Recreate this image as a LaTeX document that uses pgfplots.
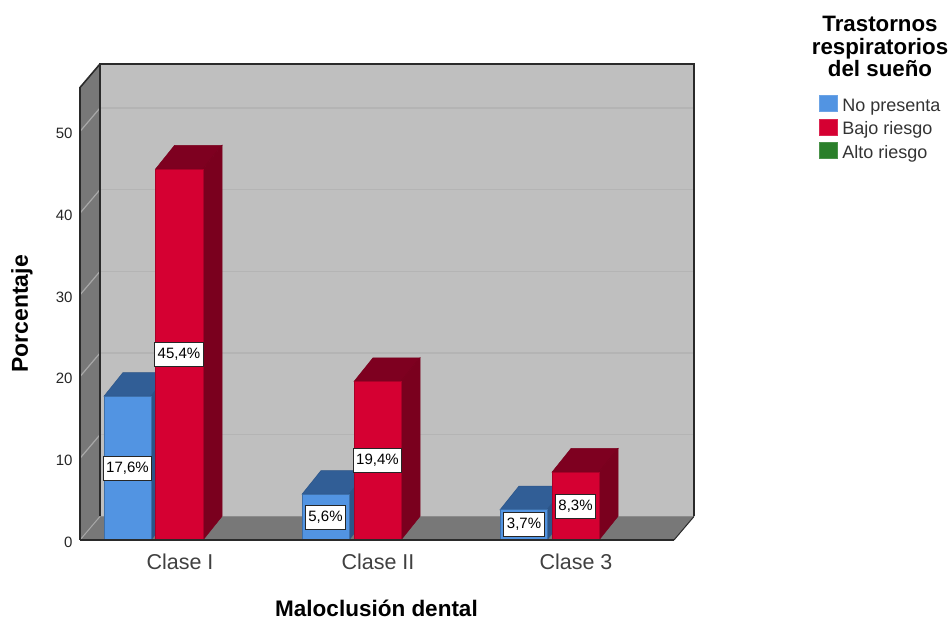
\documentclass[border=0pt]{standalone}
\usepackage{fontspec}
\setmainfont{Liberation Sans}
\usepackage{pgfplots}
\usepackage{pgfplotstable}
\pgfplotsset{compat=1.18}

\definecolor{wallback}{HTML}{BFBFBF}
\definecolor{wallside}{HTML}{787878}
\definecolor{gridback}{HTML}{B4B4B4}
\definecolor{gridside}{HTML}{A8A8A8}
\definecolor{framecol}{HTML}{2A2A2A}
\definecolor{bluefront}{HTML}{5294E2}
\definecolor{bluetop}{HTML}{315E96}
\definecolor{blueside}{HTML}{2C5588}
\definecolor{redfront}{HTML}{D50032}
\definecolor{redtop}{HTML}{7E0020}
\definecolor{redside}{HTML}{7A001E}
\definecolor{greenfront}{HTML}{2A7F2A}

% Percentage labels, centred half way up each bar
\pgfplotstableread[col sep=space]{
x y lab
127.5 8.8 {17,6\%}
179 22.7 {45,4\%}
325.5 2.8 {5,6\%}
377.5 9.7 {19,4\%}
524 1.85 {3,7\%}
575.5 4.15 {8,3\%}
}\barlabels

\begin{document}
\begin{tikzpicture}[x=1pt,y=1pt]
\path[use as bounding box] (0,0) rectangle (951,618);
\begin{axis}[
  at={(80pt,78pt)}, anchor=south west,
  scale only axis, width=614pt, height=476pt,
  xmin=80, xmax=694, ymin=0, ymax=58.26,
  clip=false,
  axis line style={draw=none},
  tick style={draw=none},
  xtick={180,378,576},
  xticklabels={Clase I,Clase II,Clase 3},
  ytick={0,10,20,30,40,50},
  xticklabel style={font=\fontsize{21.5}{21.5}\selectfont, color=black!75, yshift=-10pt},
  yticklabel style={font=\fontsize{15}{15}\selectfont, color=black!85, xshift=-4pt, yshift=-2pt},
  /pgf/number format/assume math mode=true,
  xlabel={\textbf{Maloclusión dental}},
  xlabel style={font=\fontsize{22.5}{22.5}\selectfont, at={(axis cs:376.5,0)}, anchor=center, inner sep=0pt, yshift=-68pt},
  ylabel={\textbf{Porcentaje}},
  ylabel style={font=\fontsize{23}{23}\selectfont, at={(axis cs:22,27.66)}, anchor=center, inner sep=0pt},
  legend style={at={(axis cs:819,58.26)}, anchor=north west, draw=none, fill=none,
    yshift=-31pt, inner sep=0pt, outer sep=0pt,
    font=\fontsize{18}{18}\selectfont, text=black!80,
    row sep=3.5pt,
    nodes={inner xsep=5pt, inner ysep=0pt, text height=13pt, text depth=4pt}},
  legend cell align=left,
  legend image code/.code={\draw[#1] (0pt,-4.5pt) rectangle (18pt,11.5pt);},
]
% Side wall, floor and back wall
\addplot[forget plot, fill=wallside, draw=none] coordinates {(80,0)(100,2.88)(100,58.26)(80,55.38)} -- cycle;
\addplot[forget plot, fill=wallside, draw=none] coordinates {(80,0)(674,0)(694,2.88)(100,2.88)} -- cycle;
\addplot[forget plot, fill=wallback, draw=none] coordinates {(100,2.88)(694,2.88)(694,58.26)(100,58.26)} -- cycle;

% Grid lines on the back and side walls
\pgfplotsinvokeforeach{10,20,30,40,50}{
  \addplot[forget plot, gridback, line width=1.2pt] coordinates {(100,#1+2.88)(694,#1+2.88)};
  \addplot[forget plot, gridside, line width=1.2pt] coordinates {(80,#1)(100,#1+2.88)};
}
\addplot[forget plot, gridside, line width=1pt] coordinates {(80,0)(100,2.88)};
\addplot[forget plot, black!45, line width=1pt] coordinates {(100,2.88)(694,2.88)};

% Frame of the box
\addplot[forget plot, framecol, line width=1.8pt] coordinates {(694,2.88)(694,58.26)(100,58.26)(100,2.88)};
\addplot[forget plot, framecol, line width=1.6pt] coordinates {(100,58.26)(80,55.38)(80,0)};
\addplot[forget plot, framecol, line width=1pt] coordinates {(674,0)(694,2.88)};

% Clase I
\addplot[forget plot, fill=bluetop, draw=blueside, line width=.5pt] coordinates {(104,17.6)(151,17.6)(170,20.5)(123,20.5)} -- cycle;
\addplot[forget plot, fill=blueside, draw=blueside, line width=.5pt] coordinates {(151,0)(170,2.9)(170,20.5)(151,17.6)} -- cycle;
\addplot[forget plot, fill=bluefront, draw=bluefront!75!black, line width=.7pt] coordinates {(104,0)(151,0)(151,17.6)(104,17.6)} -- cycle;
\addplot[forget plot, fill=redtop, draw=redside, line width=.5pt] coordinates {(155.5,45.4)(203,45.4)(222,48.3)(174.5,48.3)} -- cycle;
\addplot[forget plot, fill=redside, draw=redside, line width=.5pt] coordinates {(203,0)(222,2.9)(222,48.3)(203,45.4)} -- cycle;
\addplot[forget plot, fill=redfront, draw=redfront!80!black, line width=.7pt] coordinates {(155.5,0)(203,0)(203,45.4)(155.5,45.4)} -- cycle;

% Clase II
\addplot[forget plot, fill=bluetop, draw=blueside, line width=.5pt] coordinates {(302,5.6)(349,5.6)(368,8.5)(321,8.5)} -- cycle;
\addplot[forget plot, fill=blueside, draw=blueside, line width=.5pt] coordinates {(349,0)(368,2.9)(368,8.5)(349,5.6)} -- cycle;
\addplot[forget plot, fill=bluefront, draw=bluefront!75!black, line width=.7pt] coordinates {(302,0)(349,0)(349,5.6)(302,5.6)} -- cycle;
\addplot[forget plot, fill=redtop, draw=redside, line width=.5pt] coordinates {(354,19.4)(401,19.4)(420,22.3)(373,22.3)} -- cycle;
\addplot[forget plot, fill=redside, draw=redside, line width=.5pt] coordinates {(401,0)(420,2.9)(420,22.3)(401,19.4)} -- cycle;
\addplot[forget plot, fill=redfront, draw=redfront!80!black, line width=.7pt] coordinates {(354,0)(401,0)(401,19.4)(354,19.4)} -- cycle;

% Clase 3
\addplot[forget plot, fill=bluetop, draw=blueside, line width=.5pt] coordinates {(500,3.7)(547,3.7)(566,6.6)(519,6.6)} -- cycle;
\addplot[forget plot, fill=blueside, draw=blueside, line width=.5pt] coordinates {(547,0)(566,2.9)(566,6.6)(547,3.7)} -- cycle;
\addplot[forget plot, fill=bluefront, draw=bluefront!75!black, line width=.7pt] coordinates {(500,0)(547,0)(547,3.7)(500,3.7)} -- cycle;
\addplot[forget plot, fill=redtop, draw=redside, line width=.5pt] coordinates {(552,8.3)(599,8.3)(618,11.2)(571,11.2)} -- cycle;
\addplot[forget plot, fill=redside, draw=redside, line width=.5pt] coordinates {(599,0)(618,2.9)(618,11.2)(599,8.3)} -- cycle;
\addplot[forget plot, fill=redfront, draw=redfront!80!black, line width=.7pt] coordinates {(552,0)(599,0)(599,8.3)(552,8.3)} -- cycle;

% Base line in front of the bars
\addplot[forget plot, framecol, line width=1.8pt] coordinates {(80,0)(674,0)};

% Value labels
\addplot[forget plot, draw=none, mark=none,
  point meta=explicit symbolic,
  nodes near coords,
  every node near coord/.style={anchor=center, fill=white, draw=black!85, line width=1.1pt,
    font=\fontsize{15}{15}\selectfont, inner xsep=3pt, inner ysep=5pt, text height=11pt, text depth=3pt}]
  table[x=x, y=y, meta=lab] {\barlabels};

% Legend entries
\addlegendimage{fill=bluefront, draw=bluefront!85!white}
\addlegendentry{No presenta}
\addlegendimage{fill=redfront, draw=redfront!85!white}
\addlegendentry{Bajo riesgo}
\addlegendimage{fill=greenfront, draw=greenfront!85!white}
\addlegendentry{Alto riesgo}
\end{axis}
% Legend heading
\node[align=center, font=\bfseries\fontsize{22.3}{22.5}\selectfont, anchor=center] at (880,571.5)
  {Trastornos\\respiratorios\\del sueño};
\end{tikzpicture}
\end{document}
